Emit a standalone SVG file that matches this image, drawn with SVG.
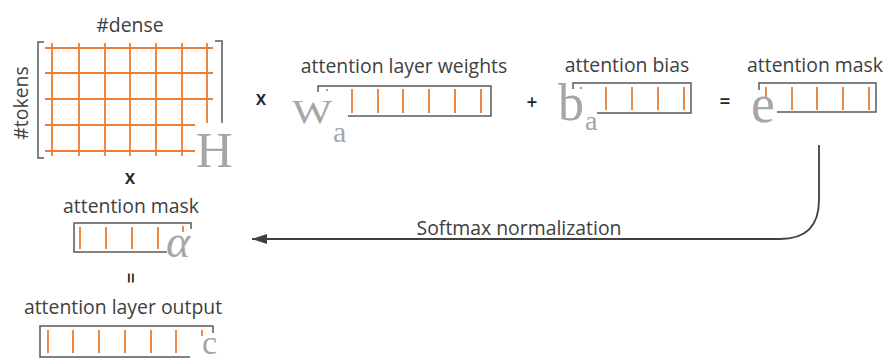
<svg xmlns="http://www.w3.org/2000/svg" width="886" height="362" viewBox="0 0 886 362">
<defs>
<style>
.lbl{font-family:"Open Sans","Noto Sans",sans-serif;font-size:19.4px;fill:#404040;text-anchor:middle}
.op{font-family:"Open Sans","Noto Sans",sans-serif;font-size:19px;fill:#262626;text-anchor:middle;font-weight:600}
.sym{font-family:"Liberation Serif","DejaVu Serif",serif;fill:#A6A6A6}
.br{stroke:#595959;stroke-width:1.5;fill:none}
.or{stroke:#ED7D31;stroke-width:1.8;fill:none}
.conn{stroke:#404040;stroke-width:1.8;fill:none}
</style>
<marker id="arr" markerUnits="userSpaceOnUse" markerWidth="16" markerHeight="10" refX="15" refY="5" orient="auto">
<path d="M0,0 L15,5 L0,10 z" fill="#404040"/>
</marker>
</defs>
<rect width="886" height="362" fill="#ffffff"/>

<g id="matrix-H">
<text class="lbl" x="130" y="32">#dense</text>
<text class="lbl" transform="translate(28,103) rotate(-90)" x="0" y="0">#tokens</text>
<path class="or" d="M45,48 H213 M45,73 H213 M45,99 H213 M45,125 H195 M45,151 H195"/>
<path class="or" d="M52,43 V156 M79,43 V156 M105,43 V156 M130,43 V156 M156,43 V156 M182,43 V156 M207,43 V123"/>
<path class="br" d="M44,42 H38 V158 H44"/>
<path class="br" d="M215,41 H222 V123"/>
<text class="sym" x="196" y="167" font-size="51">H</text>
</g>

<g id="op-times-1"><text class="op" x="261" y="105">x</text></g>

<g id="weights">
<text class="lbl" x="404" y="73">attention layer weights</text>
<path class="br" d="M318,92 V86 H491 V116 H348"/>
<path class="or" d="M352,89 V113 M378,89 V113 M403,89 V113 M429,89 V113 M455,89 V113 M481,89 V113 M327,89 V91"/>
<text class="sym" transform="translate(292,123) scale(1.25,1)" x="0" y="0" font-size="34">W</text>
<text class="sym" x="333" y="142" font-size="30">a</text>
</g>

<g id="op-plus"><text class="op" x="532" y="109">+</text></g>

<g id="bias">
<text class="lbl" x="627" y="72">attention bias</text>
<path class="br" d="M573,89 V83 H691 V113 H597"/>
<path class="or" d="M606,87 V110 M632,87 V110 M658,87 V110 M684,87 V110 M581,87 V89"/>
<text class="sym" x="558" y="120" font-size="52">b</text>
<text class="sym" x="585" y="130" font-size="28">a</text>
</g>

<g id="op-equals"><text class="op" x="725" y="108">=</text></g>

<g id="mask-e">
<text class="lbl" x="815" y="72">attention mask</text>
<path class="br" d="M759,90 V83 H876 V112 H777"/>
<path class="or" d="M766,87 V97 M792,87 V110 M817,87 V110 M843,87 V110 M869,87 V110"/>
<text class="sym" x="751" y="122" font-size="54">e</text>
</g>

<g id="op-times-2"><text class="op" x="130" y="184">x</text></g>

<g id="mask-alpha">
<text class="lbl" x="131" y="213">attention mask</text>
<path class="br" d="M191,229 V223 H74 V252 H167"/>
<path class="or" d="M80,227 V249 M106,227 V249 M132,227 V249 M158,227 V249 M183,226 V232"/>
<text class="sym" x="166" y="257" font-size="46" font-style="italic">α</text>
</g>

<g id="op-equals-2"><text class="op" transform="translate(130,278) rotate(90)" x="0" y="6">=</text></g>

<g id="output-c">
<text class="lbl" x="123" y="314">attention layer output</text>
<path class="br" d="M213,333 V326 H40 V357 H190"/>
<path class="or" d="M48,330 V353 M73,330 V353 M99,330 V353 M125,330 V353 M151,330 V353 M176,330 V353 M202,330 V336"/>
<text class="sym" x="202" y="354" font-size="34">c</text>
</g>

<g id="connectors">
<path class="conn" d="M819,145 V200 Q819,239 780,239 H252" marker-end="url(#arr)"/>
<text class="lbl" x="519" y="235">Softmax normalization</text>
</g>
</svg>
